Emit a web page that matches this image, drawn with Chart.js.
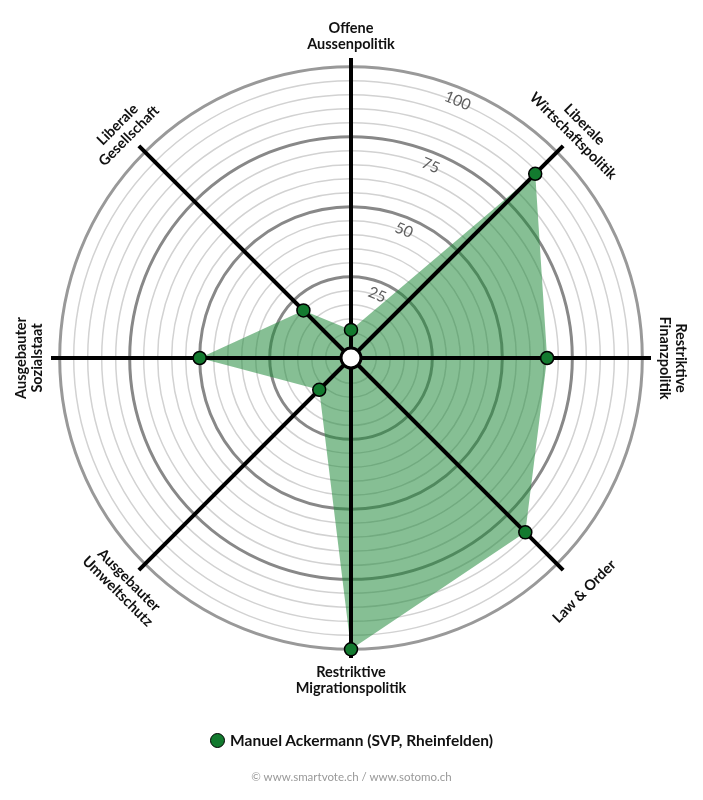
<!DOCTYPE html>
<html>
<head>
<meta charset="utf-8">
<script src="https://cdn.jsdelivr.net/npm/chart.js@4"></script>
<style>
  html, body { margin: 0; padding: 0; background: #fff; }
  #wrap { position: relative; width: 703px; height: 800px; }
  #legend { position: absolute; left: 0; width: 703px; top: 730px; height: 20px;
    display: flex; justify-content: center; align-items: center;
    font-family: Lato, "Noto Sans", sans-serif; font-size: 15.5px; font-weight: 700; color: #111; }
  #legend .dot { width: 13px; height: 13px; border-radius: 50%; background: #137a2f;
    border: 1.5px solid #000; margin-right: 5px; }
  #credit { position: absolute; left: 0; width: 703px; top: 770px; text-align: center;
    font-family: Lato, "Noto Sans", sans-serif; font-size: 11.5px; color: #999; }
</style>
</head>
<body>
<div id="wrap">
  <canvas id="c" width="703" height="800"></canvas>
  <div id="legend"><span class="dot"></span><span id="legendText"></span></div>
  <div id="credit">© www.smartvote.ch / www.sotomo.ch</div>
</div>
<script>
const categories = [
  ['Offene', 'Aussenpolitik'],
  ['Liberale', 'Wirtschaftspolitik'],
  ['Restriktive', 'Finanzpolitik'],
  ['Law & Order'],
  ['Restriktive', 'Migrationspolitik'],
  ['Ausgebauter', 'Umweltschutz'],
  ['Ausgebauter', 'Sozialstaat'],
  ['Liberale', 'Gesellschaft']
];
const seriesName = 'Manuel Ackermann (SVP, Rheinfelden)';
const values = [6, 89, 66, 84, 100, 12, 50, 20];
const tickLabels = [25, 50, 75, 100];
const gridValues = [0,5,10,15,20,25,30,35,40,45,50,55,60,65,70,75,80,85,90,95,100];

document.getElementById('legendText').textContent = seriesName;

const FONT = 'Lato, "Noto Sans", sans-serif';

const deco = {
  id: 'deco',
  beforeDatasetsDraw(chart) {
    const s = chart.scales.r, ctx = chart.ctx;
    ctx.save();
    ctx.fillStyle = '#5e5e5e';
    ctx.font = '15.5px ' + FONT;
    ctx.textAlign = 'center';
    ctx.textBaseline = 'middle';
    tickLabels.forEach(v => {
      const d = s.getDistanceFromCenterForValue(v) - 13;
      const p = s.getPointPosition(0, d, Math.PI / 8);
      ctx.save();
      ctx.translate(p.x, p.y);
      ctx.rotate(Math.PI / 8);
      ctx.fillText(String(v), 0, 0);
      ctx.restore();
    });
    ctx.restore();
  },
  afterDatasetDraw(chart, args) {
    if (args.index !== 1) return;
    const s = chart.scales.r, ctx = chart.ctx;
    ctx.save();
    ctx.strokeStyle = '#000';
    ctx.lineWidth = 4;
    ctx.lineCap = 'butt';
    for (let i = 0; i < categories.length; i++) {
      const p = s.getPointPosition(i, s.drawingArea);
      ctx.beginPath();
      ctx.moveTo(s.xCenter, s.yCenter);
      ctx.lineTo(p.x, p.y);
      ctx.stroke();
    }
    ctx.restore();
  },
  afterDatasetsDraw(chart) {
    const s = chart.scales.r, ctx = chart.ctx;
    ctx.save();
    ctx.beginPath();
    ctx.arc(s.xCenter, s.yCenter, 10, 0, Math.PI * 2);
    ctx.fillStyle = '#fff';
    ctx.fill();
    ctx.lineWidth = 3;
    ctx.strokeStyle = '#000';
    ctx.stroke();
    ctx.restore();
  },
  afterDraw(chart) {
    const s = chart.scales.r, ctx = chart.ctx;
    ctx.save();
    ctx.fillStyle = '#111';
    ctx.font = 'bold 14.5px ' + FONT;
    ctx.textAlign = 'center';
    ctx.textBaseline = 'middle';
    const lh = 16;
    categories.forEach((lines, i) => {
      const a = i * 360 / categories.length;
      let rot = a <= 90 ? a : (a < 270 ? a - 180 : a - 360);
      const n = lines.length;
      const rc = 338 - n * lh / 2;
      const p = s.getPointPosition(i, rc);
      ctx.save();
      ctx.translate(p.x, p.y);
      ctx.rotate(rot * Math.PI / 180);
      lines.forEach((t, j) => ctx.fillText(t, 0, (j - (n - 1) / 2) * lh));
      ctx.restore();
    });
    ctx.restore();
  }
};

new Chart(document.getElementById('c'), {
  type: 'radar',
  data: {
    labels: categories,
    datasets: [
      {
        label: seriesName,
        data: values,
        showLine: false,
        fill: false,
        borderWidth: 0,
        backgroundColor: 'rgba(0,0,0,0)',
        pointRadius: 6.5,
        pointHoverRadius: 6.5,
        pointBackgroundColor: '#137a2f',
        pointBorderColor: '#000',
        pointBorderWidth: 1.5
      },
      {
        label: seriesName + ' area',
        data: values,
        fill: true,
        borderWidth: 0,
        backgroundColor: 'rgba(34,139,60,0.55)',
        pointRadius: 0,
        pointHoverRadius: 0
      }
    ]
  },
  options: {
    responsive: false,
    animation: false,
    devicePixelRatio: 1,
    layout: { padding: { left: 51, right: 52, top: 58, bottom: 142 } },
    elements: { line: { tension: 0 } },
    plugins: { legend: { display: false }, tooltip: { enabled: false } },
    scales: {
      r: {
        min: -4.04,
        max: 103.1,
        afterBuildTicks(scale) {
          scale.ticks = gridValues.map(v => ({ value: v }));
        },
        ticks: { display: false },
        pointLabels: { display: false },
        angleLines: { display: false },
        grid: {
          circular: true,
          color(ctx) {
            const v = ctx.tick && ctx.tick.value;
            if (v === 100) return '#999';
            if (v % 25 === 0) return '#888';
            return '#d2d2d2';
          },
          lineWidth(ctx) {
            const v = ctx.tick && ctx.tick.value;
            if (v === 0) return 0;
            if (v % 25 === 0) return 3;
            return 1.5;
          }
        }
      }
    }
  },
  plugins: [deco]
});
</script>
</body>
</html>
